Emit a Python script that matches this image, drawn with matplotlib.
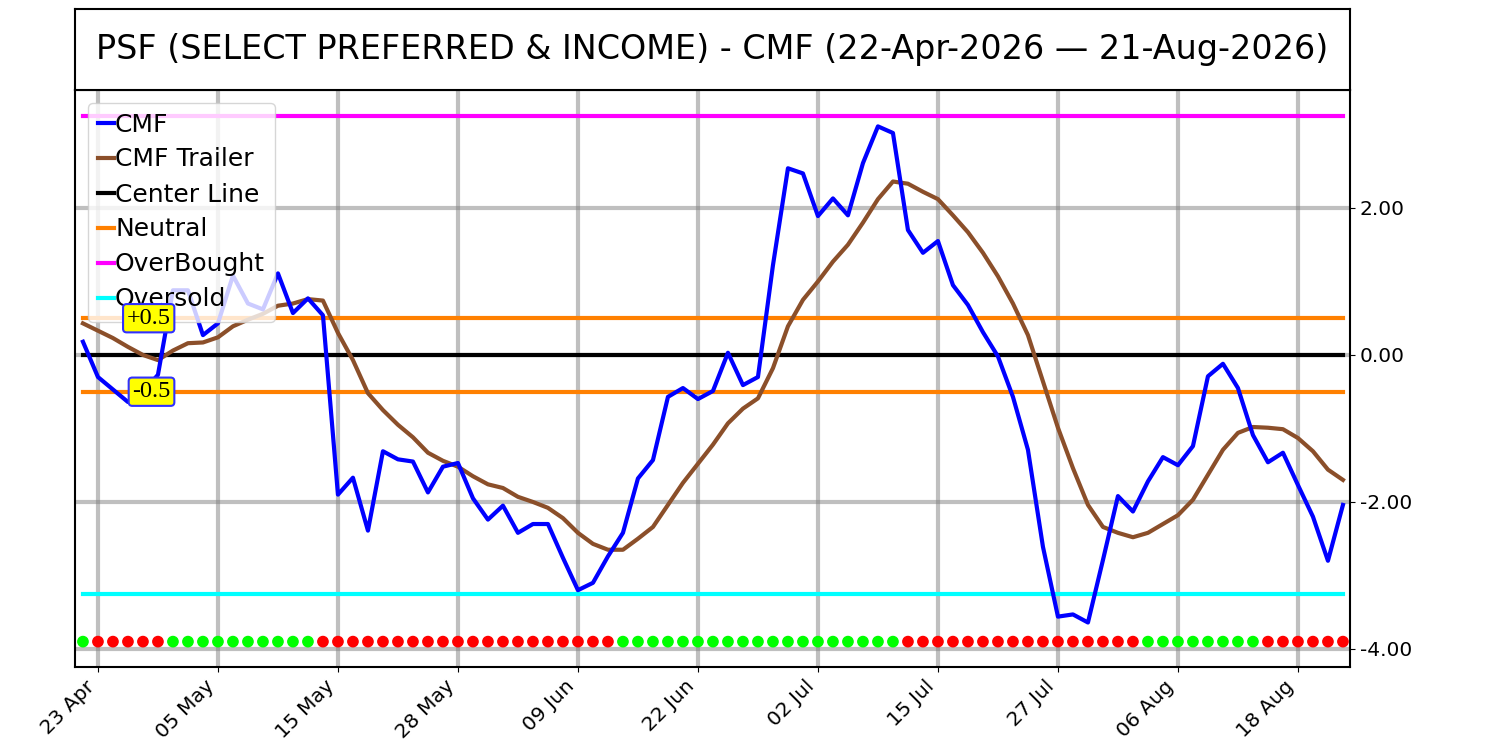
import matplotlib
matplotlib.use("Agg")
import matplotlib.pyplot as plt
import numpy as np
import pandas as pd

# trading days 22-Apr-2026 .. 21-Aug-2026 (US market holidays removed)
holidays = ["2026-05-25", "2026-06-19", "2026-07-03"]
dates = pd.bdate_range("2026-04-22", "2026-08-21", freq="C", holidays=holidays)

cmf = [0.18, -0.30, -0.47, -0.64, -0.50, -0.27, 0.88, 0.88, 0.27, 0.43,
       1.08, 0.70, 0.62, 1.11, 0.57, 0.77, 0.54, -1.90, -1.67, -2.39,
       -1.31, -1.42, -1.45, -1.87, -1.52, -1.47, -1.95, -2.24, -2.05, -2.42,
       -2.30, -2.30, -2.76, -3.20, -3.10, -2.74, -2.42, -1.68, -1.43, -0.57,
       -0.45, -0.60, -0.49, 0.03, -0.41, -0.30, 1.22, 2.54, 2.47, 1.89,
       2.13, 1.90, 2.61, 3.11, 3.02, 1.70, 1.39, 1.55, 0.95, 0.68,
       0.31, -0.02, -0.57, -1.29, -2.61, -3.56, -3.53, -3.64, -2.79, -1.92,
       -2.13, -1.72, -1.39, -1.50, -1.24, -0.29, -0.12, -0.45, -1.09, -1.46,
       -1.33, -1.77, -2.20, -2.80, -2.04]

trailer = [0.43, 0.33, 0.23, 0.11, 0.00, -0.07, 0.06, 0.16, 0.17, 0.24,
           0.39, 0.48, 0.56, 0.67, 0.70, 0.76, 0.74, 0.30, -0.07, -0.52,
           -0.75, -0.95, -1.12, -1.33, -1.44, -1.52, -1.65, -1.76, -1.81, -1.93,
           -2.00, -2.08, -2.22, -2.42, -2.57, -2.65, -2.65, -2.50, -2.34, -2.04,
           -1.74, -1.48, -1.22, -0.93, -0.73, -0.59, -0.18, 0.39, 0.75, 1.00,
           1.27, 1.50, 1.80, 2.12, 2.36, 2.33, 2.22, 2.12, 1.90, 1.67,
           1.39, 1.07, 0.70, 0.27, -0.36, -0.99, -1.54, -2.04, -2.34, -2.42,
           -2.48, -2.42, -2.30, -2.18, -1.97, -1.63, -1.29, -1.06, -0.98, -0.99,
           -1.01, -1.13, -1.31, -1.56, -1.70]

# signal dots along the bottom: (first index, last index, colour)
signal_runs = [(0, 0, "lime"), (1, 5, "red"), (6, 15, "lime"), (16, 35, "red"),
               (36, 54, "lime"), (55, 70, "red"), (71, 78, "lime"), (79, 84, "red")]

center_level = 0.0
neutral_level = 0.5
overbought_level = 3.25
oversold_level = -3.25
signal_y = -3.9


def main():
    x = np.arange(len(dates))
    signal_colors = []
    for start, end, col in signal_runs:
        signal_colors += [col] * (end - start + 1)

    fig = plt.figure(figsize=(15, 7.5), dpi=100)
    ax = fig.add_axes([0.05, 0.1107, 0.85, 0.7693])
    tax = fig.add_axes([0.05, 0.88, 0.85, 0.108])
    tax.set_xticks([])
    tax.set_yticks([])
    for s in tax.spines.values():
        s.set_linewidth(1.5)
    tax.text(0.5, 0.5, "PSF (SELECT PREFERRED & INCOME) - CMF (22-Apr-2026 \u2014 21-Aug-2026)",
             ha="center", va="center", fontsize=24, transform=tax.transAxes)

    ax.plot(x, cmf, color="blue", lw=3, label="CMF", zorder=5)
    ax.plot(x, trailer, color="#8B4F2A", lw=3, label="CMF Trailer", zorder=4)
    ax.plot(x, [center_level] * len(x), color="black", lw=3, label="Center Line", zorder=3)
    ax.plot(x, [neutral_level] * len(x), color="#FF8000", lw=3, label="Neutral", zorder=3)
    ax.plot(x, [-neutral_level] * len(x), color="#FF8000", lw=3, zorder=3)
    ax.plot(x, [overbought_level] * len(x), color="magenta", lw=3, label="OverBought", zorder=3)
    ax.plot(x, [oversold_level] * len(x), color="cyan", lw=3, label="Oversold", zorder=3)
    ax.scatter(x, [signal_y] * len(x), c=signal_colors, s=55, zorder=6)

    box = dict(boxstyle="round,pad=0.15", fc="yellow", ec="#3030FF", lw=1.5)
    ax.text(5.85, neutral_level, "+0.5", ha="right", va="center", fontsize=17.5,
            family="Liberation Serif", bbox=box, zorder=7)
    ax.text(5.85, -neutral_level, "-0.5", ha="right", va="center", fontsize=17.5,
            family="Liberation Serif", bbox=box, zorder=7)

    ticks = x[1::8]
    ax.set_xticks(ticks)
    ax.set_xticklabels([d.strftime("%d %b") for d in dates[1::8]], rotation=45,
                       ha="right", fontsize=14.5)
    ax.yaxis.tick_right()
    ax.set_yticks([2, 0, -2, -4])
    ax.set_yticklabels(["%.2f" % v for v in [2, 0, -2, -4]], fontsize=14.5)
    ax.set_xlim(-0.53, 84.47)
    ax.set_ylim(-4.245, 3.605)
    ax.grid(True, color="gray", alpha=0.5, lw=3)
    for s in ax.spines.values():
        s.set_linewidth(1.5)

    ax.legend(loc="upper left", fontsize=18, handlelength=0.65, handletextpad=0.05,
              labelspacing=0.44, borderaxespad=0.5)

    fig.savefig("out.png")


if __name__ == "__main__":
    main()
